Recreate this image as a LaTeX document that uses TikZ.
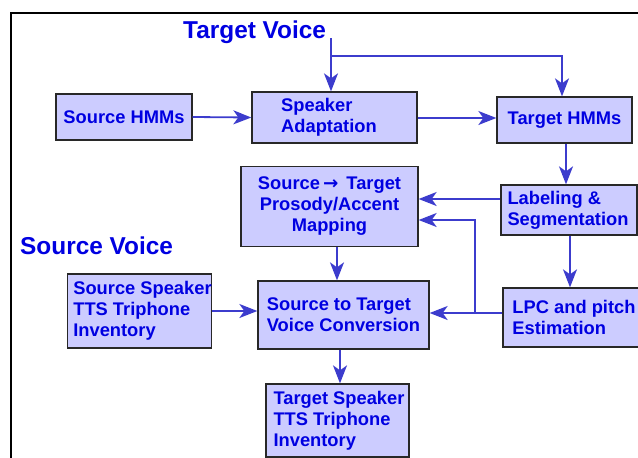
\documentclass[tikz,border=0pt]{standalone}
\usepackage{fontspec}
\setmainfont{Liberation Sans}
\usetikzlibrary{arrows.meta,calc}
\definecolor{txtblue}{RGB}{0,0,225}
\definecolor{arrblue}{RGB}{60,60,205}
\definecolor{boxfill}{RGB}{204,204,255}
\definecolor{boxline}{RGB}{40,40,40}
\begin{document}
\begin{tikzpicture}[x=1pt,y=-1pt,
  box/.style={draw=boxline,line width=1.3pt,fill=boxfill,text=txtblue,
    font=\bfseries\fontsize{18.3}{21}\selectfont,inner sep=0pt},
  lbl/.style={text=txtblue,font=\bfseries\fontsize{24.4}{26}\selectfont,inner sep=0pt},
  arr/.style={draw=arrblue,line width=1.8pt,-{Stealth[length=18pt,width=14pt,inset=5pt]}},
  ln/.style={draw=arrblue,line width=1.8pt}]
\useasboundingbox (0,0) rectangle (638,458);
% frame
\draw[line width=2pt,black] (11,458) -- (11,13) -- (640,13);
% labels
\node[lbl,anchor=west] (tv) at (183,32) {Target Voice};
\node[lbl,anchor=west] (sv) at (20,246) {Source Voice};
% boxes
\node[box,minimum width=136pt,minimum height=46pt,align=center] (shm) at (124,117) {Source HMMs};
\node[box,minimum width=165pt,minimum height=51pt,align=left] (spk) at (334.5,117.5) {Speaker\\Adaptation\hspace*{11pt}};
\node[box,minimum width=135pt,minimum height=46pt,align=center] (thm) at (564.5,120) {Target HMMs};
\node[box,minimum width=136pt,minimum height=50pt,align=left] (lab) at (569,210) {Labeling \&\\Segmentation\hspace*{2pt}};
\node[box,minimum width=177pt,minimum height=80pt,align=center] (pro) at (329.5,206.5) {Source{\fontspec{DejaVu Sans}\bfseries\,→}\ \,Target\\Prosody/Accent\\Mapping};
\node[box,minimum width=171pt,minimum height=68pt,align=left] (vc) at (343.5,315) {Source to Target\\Voice Conversion};
\node[box,minimum width=143pt,minimum height=74pt,align=left] (ss) at (139.5,311) {\hspace*{6pt}Source Speaker\\\hspace*{6pt}TTS Triphone\\\hspace*{6pt}Inventory};
\node[box,minimum width=142pt,minimum height=59pt,align=left] (lpc) at (574,317.5) {LPC and pitch\\Estimation};
\node[box,minimum width=143pt,minimum height=73pt,align=left] (ts) at (337.5,420.5) {\hspace*{3pt}Target Speaker\\\hspace*{3pt}TTS Triphone\\\hspace*{3pt}Inventory};
% helper coordinates
\coordinate (tvs) at (331,38);
\coordinate (tvb) at (331,56);
\coordinate (ya) at (0,199);
\coordinate (yb) at (0,220);
\coordinate (yc) at (0,313);
\coordinate (yd) at (0,118);
\coordinate (br) at (475,313);
\coordinate (xa) at (566,0);
\coordinate (xb) at (570,0);
\coordinate (xc) at (337,0);
\coordinate (xd) at (340,0);
% connectors
\draw[arr] (tvs) -- (tvs |- spk.north);
\draw[arr] (tvb) -| ($(thm.north)+(-2.5,0)$);
\draw[arr] (shm.east) -- (spk.west);
\draw[arr] (spk.east |- yd) -- (thm.west |- yd);
\draw[arr] (xa |- thm.south) -- (xa |- lab.north);
\draw[arr] (lab.west |- ya) -- (pro.east |- ya);
\draw[arr] (xb |- lab.south) -- (xb |- lpc.north);
\draw[arr] (lpc.west |- yc) -- (vc.east |- yc);
\draw[arr] (br) |- (pro.east |- yb);
\draw[arr] (xc |- pro.south) -- (xc |- vc.north);
\draw[arr] (ss.east) -- (ss.east -| vc.west);
\draw[arr] (xd |- vc.south) -- (xd |- ts.north);
\end{tikzpicture}
\end{document}
